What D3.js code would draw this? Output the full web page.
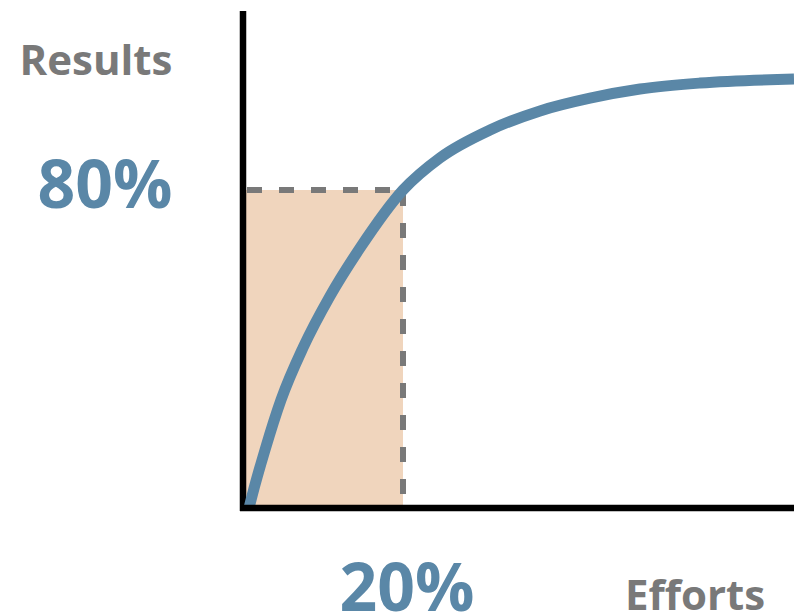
<!DOCTYPE html>
<html>
<head>
<meta charset="utf-8">
<script src="https://cdn.jsdelivr.net/npm/d3@7/dist/d3.min.js"></script>
<style>
  html, body { margin: 0; padding: 0; background: #ffffff; }
  svg { display: block; }
  text { font-family: "Open Sans", "Noto Sans", sans-serif; font-weight: 700; }
</style>
</head>
<body>
<svg id="chart" width="794" height="616"></svg>
<script>
// Effort (x, %) versus results (y, %) along the diminishing-returns curve
const effortPct = [0.75, 1.125, 2.75, 4.75, 7.5, 10.875, 14.625, 20, 24.625, 30.875, 37.125, 43.375, 49.625, 57.125, 68.875];
const resultPct = [0, 3.0, 14.6, 27.2, 40.3, 53.3, 65.4, 80, 88.1, 95.1, 99.9, 103.1, 105.4, 106.9, 107.9];

// Highlighted Pareto point
const markEffort = [20];
const markResult = [80];

// Axis names and value labels
const axisNames  = ["Results", "Efforts"];
const markLabels = ["80%", "20%"];

const svg = d3.select("#chart");

const x = d3.scaleLinear().domain([0, 68.875]).range([243, 794]);
const y = d3.scaleLinear().domain([0, 100]).range([508, 110.5]);

const blue = "#5a87a7";
const gray = "#797979";

// Shaded area under the 20% / 80% point
svg.append("rect")
  .attr("x", x(0))
  .attr("y", y(markResult[0]))
  .attr("width", x(markEffort[0]) - x(0))
  .attr("height", y(0) - y(markResult[0]))
  .attr("fill", "#f0d5bd");

// Dashed guides
svg.append("line")
  .attr("x1", x(0)).attr("x2", x(markEffort[0]))
  .attr("y1", y(markResult[0])).attr("y2", y(markResult[0]))
  .attr("stroke", gray).attr("stroke-width", 6)
  .attr("stroke-dasharray", "15 17").attr("stroke-dashoffset", -4);

svg.append("line")
  .attr("x1", x(markEffort[0])).attr("x2", x(markEffort[0]))
  .attr("y1", y(markResult[0])).attr("y2", y(0))
  .attr("stroke", gray).attr("stroke-width", 6)
  .attr("stroke-dasharray", "15 17").attr("stroke-dashoffset", -1);

// Vertical axis
svg.append("line")
  .attr("x1", x(0)).attr("x2", x(0))
  .attr("y1", 11).attr("y2", y(0) + 3)
  .attr("stroke", "#000").attr("stroke-width", 6.5);

// Curve
const pts = effortPct.map((e, i) => [e, resultPct[i]]);
const line = d3.line()
  .x(d => x(d[0]))
  .y(d => y(d[1]))
  .curve(d3.curveMonotoneX);

svg.append("path")
  .datum(pts)
  .attr("d", line)
  .attr("fill", "none")
  .attr("stroke", blue)
  .attr("stroke-width", 11);

// Horizontal axis, drawn over the start of the curve
svg.append("line")
  .attr("x1", x(0) - 3).attr("x2", 794)
  .attr("y1", y(0)).attr("y2", y(0))
  .attr("stroke", "#000").attr("stroke-width", 6.5);

// Labels
svg.append("text")
  .attr("x", 96).attr("y", 75)
  .attr("text-anchor", "middle")
  .attr("font-size", 42)
  .attr("fill", gray)
  .text(axisNames[0]);

svg.append("text")
  .attr("x", 105).attr("y", 208)
  .attr("text-anchor", "middle")
  .attr("font-size", 66)
  .attr("fill", blue)
  .text(markLabels[0]);

svg.append("text")
  .attr("x", 407).attr("y", 611)
  .attr("text-anchor", "middle")
  .attr("font-size", 66)
  .attr("fill", blue)
  .text(markLabels[1]);

svg.append("text")
  .attr("x", 695).attr("y", 610)
  .attr("text-anchor", "middle")
  .attr("font-size", 42)
  .attr("fill", gray)
  .text(axisNames[1]);
</script>
</body>
</html>
